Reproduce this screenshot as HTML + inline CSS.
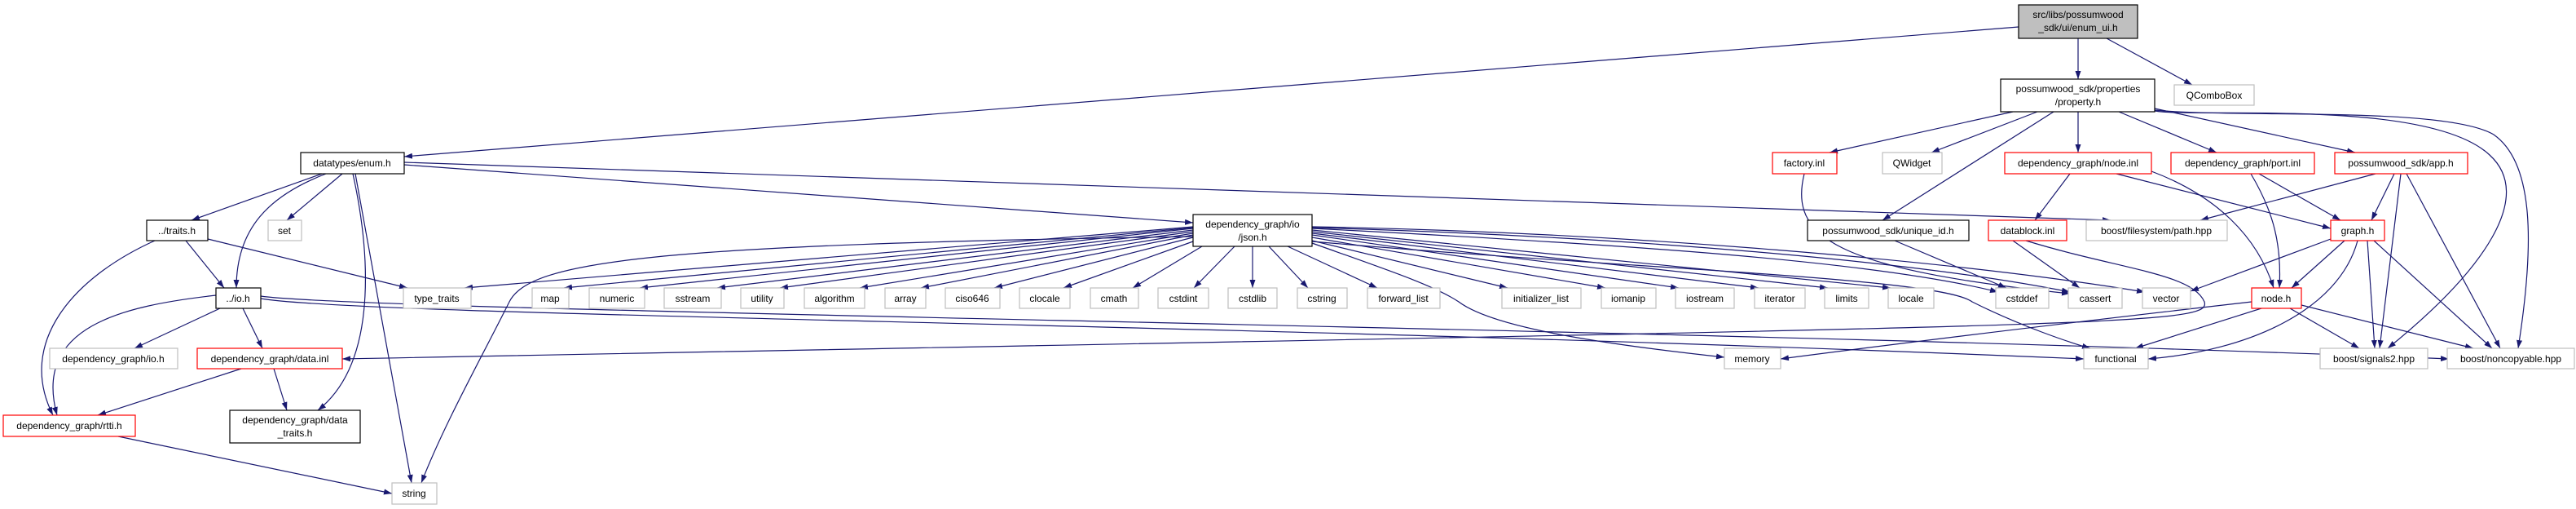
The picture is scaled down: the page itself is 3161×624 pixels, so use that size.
<!DOCTYPE html>
<html><head><meta charset="utf-8"><style>
html,body{margin:0;padding:0;background:#fff;}
svg{display:block;}
text{font-family:"Liberation Sans",Helvetica,Arial,sans-serif;font-size:12px;fill:#000;text-anchor:middle;}
.e{fill:none;stroke:#191970;stroke-width:1.2;marker-end:url(#a);}
.k{fill:#fff;stroke:#000;stroke-width:1.2;}
.r{fill:#fff;stroke:#ff0000;stroke-width:1.2;}
.g{fill:#fff;stroke:#bfbfbf;stroke-width:1.2;}
</style></head><body>
<svg width="3161" height="624" viewBox="0 0 3161 624" xmlns="http://www.w3.org/2000/svg">
<defs><marker id="a" viewBox="0 0 10 7" refX="10" refY="3.5" markerWidth="10" markerHeight="7" markerUnits="userSpaceOnUse" orient="auto"><path d="M0,0 L10,3.5 L0,7 z" fill="#191970"/></marker></defs>

<!-- edges -->
<path class="e" d="M2550,47 L2550,97"/>
<path class="e" d="M2585,47 L2690,104"/>
<path class="e" d="M2477,33 L496,192"/>
<path class="e" d="M2470,137 L2245,187"/>
<path class="e" d="M2500,137 L2370,187"/>
<path class="e" d="M2520,137 L2310,270"/>
<path class="e" d="M2550,137 L2550,187"/>
<path class="e" d="M2600,137 L2720,187"/>
<path class="e" d="M2644,133 L2890,187"/>
<path class="e" d="M2644,136 C2700,145 2980,120 3055,190 C3110,240 3050,330 2930,427"/>
<path class="e" d="M2644,135 C2750,145 3000,130 3060,165 C3110,200 3110,300 3090,427"/>
<path class="e" d="M496,202 L1464,273"/>
<path class="e" d="M496,199 L2590,270"/>
<path class="e" d="M395,213 L235,270"/>
<path class="e" d="M400,213 C330,240 290,280 290,353"/>
<path class="e" d="M420,213 L352,270"/>
<path class="e" d="M433,213 C450,290 470,440 390,503"/>
<path class="e" d="M436,213 L505,592"/>
<path class="e" d="M228,295 L275,353"/>
<path class="e" d="M190,295 C90,340 20,420 65,509"/>
<path class="e" d="M255,293 L500,353"/>
<path class="e" d="M265,362 C150,375 40,400 70,509"/>
<path class="e" d="M270,378 L165,427"/>
<path class="e" d="M298,378 L322,427"/>
<path class="e" d="M320,366 C450,388 1500,395 2557,440"/>
<path class="e" d="M320,363 C450,382 2000,400 3005,440"/>
<path class="e" d="M296,452 L120,509"/>
<path class="e" d="M336,452 L352,503"/>
<path class="e" d="M145,535 L481,605"/>
<path class="e" d="M1464,290 C800,300 650,320 625,370 C590,440 545,520 517,592"/>
<!-- json.h to std headers -->
<path class="e" d="M1464,278 L570,353"/>
<path class="e" d="M1464,279 L692,353"/>
<path class="e" d="M1464,280 L785,353"/>
<path class="e" d="M1464,282 L880,353"/>
<path class="e" d="M1464,284 L957,353"/>
<path class="e" d="M1464,286 L1055,353"/>
<path class="e" d="M1464,288 L1130,353"/>
<path class="e" d="M1464,291 L1220,353"/>
<path class="e" d="M1464,296 L1305,353"/>
<path class="e" d="M1475,302 L1390,353"/>
<path class="e" d="M1515,302 L1465,353"/>
<path class="e" d="M1537,302 L1537,353"/>
<path class="e" d="M1557,302 L1605,353"/>
<path class="e" d="M1580,302 L1690,353"/>
<path class="e" d="M1610,295 L1850,353"/>
<path class="e" d="M1610,291 L1970,353"/>
<path class="e" d="M1610,288 L2060,353"/>
<path class="e" d="M1610,286 L2158,353"/>
<path class="e" d="M1610,284 L2243,353"/>
<path class="e" d="M1610,282 L2320,353"/>
<path class="e" d="M1610,280 C2000,300 2300,320 2452,358"/>
<path class="e" d="M1610,279 C2000,290 2350,320 2540,358"/>
<path class="e" d="M1610,278 C2000,285 2400,320 2632,358"/>
<path class="e" d="M1610,298 C1700,330 1760,350 1790,370 C1830,400 1950,420 2116,438"/>
<path class="e" d="M1610,296 C2000,330 2380,340 2420,370 C2480,400 2540,420 2565,427"/>
<!-- right cluster -->
<path class="e" d="M2214,213 C2195,290 2250,330 2540,360"/>
<path class="e" d="M2325,295 L2462,353"/>
<path class="e" d="M2540,213 L2497,270"/>
<path class="e" d="M2597,213 L2860,280"/>
<path class="e" d="M2640,210 C2720,240 2770,290 2790,353"/>
<path class="e" d="M2772,213 L2872,270"/>
<path class="e" d="M2762,213 C2790,260 2800,300 2797,353"/>
<path class="e" d="M2915,213 L2700,270"/>
<path class="e" d="M2938,213 L2910,270"/>
<path class="e" d="M2946,213 L2920,427"/>
<path class="e" d="M2953,213 L3068,427"/>
<path class="e" d="M2470,295 L2552,353"/>
<path class="e" d="M2486,295 C2600,330 2690,335 2705,370 C2715,400 2600,398 420,440"/>
<path class="e" d="M2860,293 L2688,357"/>
<path class="e" d="M2877,295 L2812,353"/>
<path class="e" d="M2893,295 C2870,380 2760,430 2636,440"/>
<path class="e" d="M2905,295 L2914,427"/>
<path class="e" d="M2913,295 L3058,427"/>
<path class="e" d="M2763,370 C2500,400 2300,425 2185,440"/>
<path class="e" d="M2775,378 L2620,427"/>
<path class="e" d="M2810,378 L2895,427"/>
<path class="e" d="M2824,374 L3035,427"/>

<!-- nodes -->
<rect x="2477" y="6" width="146" height="41" fill="#bfbfbf" stroke="#000" stroke-width="1.2"/>
<text x="2550" y="22">src/libs/possumwood</text><text x="2550" y="38">_sdk/ui/enum_ui.h</text>

<rect class="k" x="2455" y="97" width="189" height="40"/>
<text x="2550" y="113">possumwood_sdk/properties</text><text x="2550" y="129">/property.h</text>
<rect class="g" x="2668" y="104" width="98" height="25"/><text x="2717" y="121">QComboBox</text>

<rect class="k" x="369" y="187" width="127" height="26"/><text x="432" y="204">datatypes/enum.h</text>
<rect class="r" x="2175" y="187" width="79" height="26"/><text x="2214" y="204">factory.inl</text>
<rect class="g" x="2310" y="187" width="73" height="26"/><text x="2346" y="204">QWidget</text>
<rect class="r" x="2460" y="187" width="180" height="26"/><text x="2550" y="204">dependency_graph/node.inl</text>
<rect class="r" x="2664" y="187" width="176" height="26"/><text x="2752" y="204">dependency_graph/port.inl</text>
<rect class="r" x="2865" y="187" width="163" height="26"/><text x="2946" y="204">possumwood_sdk/app.h</text>

<rect class="k" x="180" y="270" width="75" height="25"/><text x="217" y="287">../traits.h</text>
<rect class="g" x="329" y="270" width="41" height="25"/><text x="349" y="287">set</text>
<rect class="k" x="1464" y="263" width="146" height="39"/>
<text x="1537" y="279">dependency_graph/io</text><text x="1537" y="295">/json.h</text>
<rect class="k" x="2218" y="270" width="198" height="25"/><text x="2317" y="287">possumwood_sdk/unique_id.h</text>
<rect class="r" x="2440" y="270" width="96" height="25"/><text x="2488" y="287">datablock.inl</text>
<rect class="g" x="2560" y="270" width="173" height="25"/><text x="2646" y="287">boost/filesystem/path.hpp</text>
<rect class="r" x="2860" y="270" width="66" height="25"/><text x="2893" y="287">graph.h</text>

<rect class="k" x="265" y="353" width="55" height="25"/><text x="292" y="370">../io.h</text>
<rect class="g" x="495" y="353" width="83" height="25"/><text x="536" y="370">type_traits</text>
<rect class="g" x="653" y="353" width="45" height="25"/><text x="675" y="370">map</text>
<rect class="g" x="723" y="353" width="68" height="25"/><text x="757" y="370">numeric</text>
<rect class="g" x="815" y="353" width="70" height="25"/><text x="850" y="370">sstream</text>
<rect class="g" x="909" y="353" width="53" height="25"/><text x="935" y="370">utility</text>
<rect class="g" x="987" y="353" width="74" height="25"/><text x="1024" y="370">algorithm</text>
<rect class="g" x="1086" y="353" width="50" height="25"/><text x="1111" y="370">array</text>
<rect class="g" x="1160" y="353" width="67" height="25"/><text x="1193" y="370">ciso646</text>
<rect class="g" x="1251" y="353" width="62" height="25"/><text x="1282" y="370">clocale</text>
<rect class="g" x="1338" y="353" width="59" height="25"/><text x="1367" y="370">cmath</text>
<rect class="g" x="1421" y="353" width="62" height="25"/><text x="1452" y="370">cstdint</text>
<rect class="g" x="1507" y="353" width="60" height="25"/><text x="1537" y="370">cstdlib</text>
<rect class="g" x="1592" y="353" width="61" height="25"/><text x="1622" y="370">cstring</text>
<rect class="g" x="1678" y="353" width="89" height="25"/><text x="1722" y="370">forward_list</text>
<rect class="g" x="1843" y="353" width="97" height="25"/><text x="1891" y="370">initializer_list</text>
<rect class="g" x="1965" y="353" width="67" height="25"/><text x="1998" y="370">iomanip</text>
<rect class="g" x="2056" y="353" width="72" height="25"/><text x="2092" y="370">iostream</text>
<rect class="g" x="2153" y="353" width="62" height="25"/><text x="2184" y="370">iterator</text>
<rect class="g" x="2239" y="353" width="54" height="25"/><text x="2266" y="370">limits</text>
<rect class="g" x="2317" y="353" width="56" height="25"/><text x="2345" y="370">locale</text>
<rect class="g" x="2449" y="353" width="65" height="25"/><text x="2481" y="370">cstddef</text>
<rect class="g" x="2538" y="353" width="66" height="25"/><text x="2571" y="370">cassert</text>
<rect class="g" x="2629" y="353" width="59" height="25"/><text x="2658" y="370">vector</text>
<rect class="r" x="2763" y="353" width="61" height="25"/><text x="2793" y="370">node.h</text>

<rect class="g" x="61" y="427" width="157" height="25"/><text x="139" y="444">dependency_graph/io.h</text>
<rect class="r" x="242" y="427" width="178" height="25"/><text x="331" y="444">dependency_graph/data.inl</text>
<rect class="g" x="2116" y="427" width="69" height="25"/><text x="2150" y="444">memory</text>
<rect class="g" x="2557" y="427" width="79" height="25"/><text x="2596" y="444">functional</text>
<rect class="g" x="2847" y="427" width="132" height="25"/><text x="2913" y="444">boost/signals2.hpp</text>
<rect class="g" x="3003" y="427" width="156" height="25"/><text x="3081" y="444">boost/noncopyable.hpp</text>

<rect class="r" x="4" y="509" width="162" height="26"/><text x="85" y="526">dependency_graph/rtti.h</text>
<rect class="k" x="282" y="503" width="160" height="40"/>
<text x="362" y="519">dependency_graph/data</text><text x="362" y="535">_traits.h</text>

<rect class="g" x="481" y="592" width="55" height="26"/><text x="508" y="609">string</text>
</svg>
</body></html>
